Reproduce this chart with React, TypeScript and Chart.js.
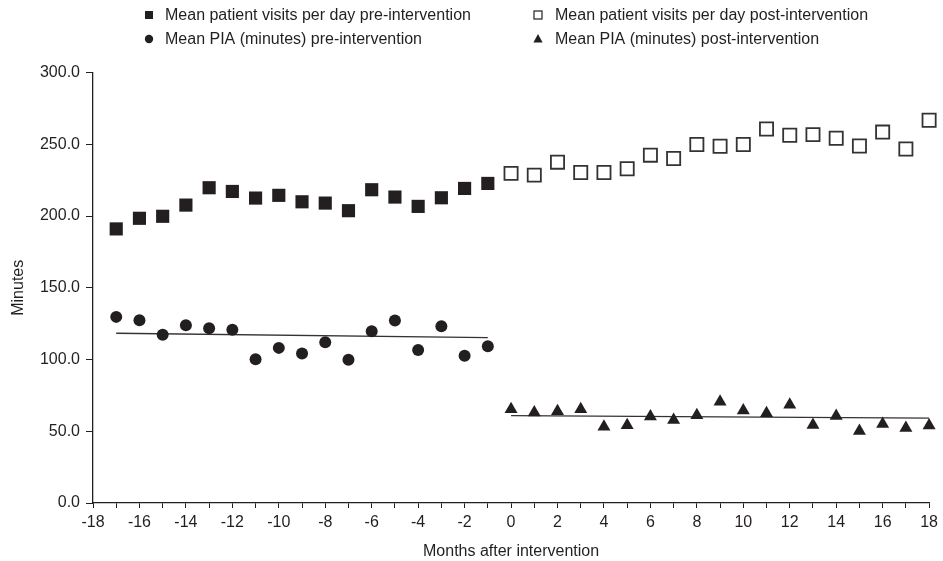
import React, { useEffect, useRef } from "react";
import { Chart, registerables } from "chart.js";

Chart.register(...registerables);

const monthsPre = [-17, -16, -15, -14, -13, -12, -11, -10, -9, -8, -7, -6, -5, -4, -3, -2, -1];
const monthsPost = [0, 1, 2, 3, 4, 5, 6, 7, 8, 9, 10, 11, 12, 13, 14, 15, 16, 17, 18];

const visitsPre = [191, 198.4, 199.8, 207.6, 219.7, 217.1, 212.5, 214.4, 209.9, 209, 203.7, 218.3, 213.2, 206.7, 212.7, 219.2, 222.7];
const visitsPost = [229.7, 228.5, 237.5, 230.3, 230.3, 232.9, 242.4, 240.1, 249.8, 248.6, 249.8, 260.6, 256.3, 256.7, 254.2, 248.8, 258.5, 246.7, 266.7];
const piaPre = [129.7, 127.3, 117.2, 123.8, 121.7, 120.8, 100.2, 108.1, 104.2, 112, 99.8, 119.7, 127.1, 106.7, 123.1, 102.6, 109.2];
const piaPost = [65.4, 63, 63.9, 65.3, 53.2, 54.2, 60.2, 57.9, 61.2, 70.6, 64.4, 62.5, 68.5, 54.4, 60.6, 50.2, 55.1, 52.3, 54];

const trendPreX = [-17, -1];
const trendPreY = [118.3, 115.3];
const trendPostX = [0, 18];
const trendPostY = [60.9, 59.2];

const legendLabels = [
  "Mean patient visits per day pre-intervention",
  "Mean patient visits per day post-intervention",
  "Mean PIA (minutes) pre-intervention",
  "Mean PIA (minutes) post-intervention",
];

const xTitle = "Months after intervention";
const yTitle = "Minutes";

const INK = "#231f20";
const FONT = '"Liberation Sans", Arial, Helvetica, sans-serif';

const pts = (xs: number[], ys: number[]) => xs.map((x, i) => ({ x, y: ys[i] }));

const legendPlugin = {
  id: "customLegend",
  afterDraw(chart: any) {
    const ctx = chart.ctx as CanvasRenderingContext2D;
    ctx.save();
    ctx.font = `16px ${FONT}`;
    ctx.textBaseline = "middle";
    ctx.textAlign = "left";
    const items = [
      { mx: 149, tx: 165, y: 15, kind: "fsq" },
      { mx: 538, tx: 555, y: 15, kind: "hsq" },
      { mx: 149, tx: 165, y: 39, kind: "circ" },
      { mx: 538, tx: 555, y: 39, kind: "tri" },
    ];
    items.forEach((it, i) => {
      ctx.fillStyle = INK;
      ctx.strokeStyle = INK;
      if (it.kind === "fsq") {
        ctx.fillRect(it.mx - 4, it.y - 4, 8, 8);
      } else if (it.kind === "hsq") {
        ctx.lineWidth = 1.2;
        ctx.fillStyle = "#fff";
        ctx.fillRect(it.mx - 4, it.y - 4, 8, 8);
        ctx.strokeRect(it.mx - 4, it.y - 4, 8, 8);
      } else if (it.kind === "circ") {
        ctx.beginPath();
        ctx.arc(it.mx, it.y, 4.2, 0, Math.PI * 2);
        ctx.fill();
      } else {
        ctx.beginPath();
        ctx.moveTo(it.mx, it.y - 5);
        ctx.lineTo(it.mx + 4.6, it.y + 3.5);
        ctx.lineTo(it.mx - 4.6, it.y + 3.5);
        ctx.closePath();
        ctx.fill();
      }
      ctx.fillStyle = INK;
      ctx.fillText(legendLabels[i], it.tx, it.y + 1);
    });
    ctx.restore();
  },
};

export default function App() {
  const ref = useRef<HTMLCanvasElement | null>(null);

  useEffect(() => {
    if (!ref.current) return;
    const chart = new Chart(ref.current, {
      type: "scatter",
      data: {
        datasets: [
          {
            label: legendLabels[0],
            data: pts(monthsPre, visitsPre),
            pointStyle: "rect",
            pointRadius: 9.3,
            backgroundColor: INK,
            borderColor: INK,
            borderWidth: 0,
            clip: false,
            order: 1,
          },
          {
            label: legendLabels[1],
            data: pts(monthsPost, visitsPost),
            pointStyle: "rect",
            pointRadius: 9.3,
            backgroundColor: "#ffffff",
            borderColor: "#333333",
            borderWidth: 1.8,
            clip: false,
            order: 1,
          },
          {
            label: legendLabels[2],
            data: pts(monthsPre, piaPre),
            pointStyle: "circle",
            pointRadius: 6,
            backgroundColor: INK,
            borderColor: INK,
            borderWidth: 0,
            clip: false,
            order: 1,
          },
          {
            label: legendLabels[3],
            data: pts(monthsPost, piaPost),
            pointStyle: "triangle",
            pointRadius: 7.5,
            backgroundColor: INK,
            borderColor: INK,
            borderWidth: 0,
            clip: false,
            order: 1,
          },
          {
            label: "trend-pre",
            data: pts(trendPreX, trendPreY),
            showLine: true,
            pointRadius: 0,
            borderColor: "#333333",
            borderWidth: 1.3,
            clip: false,
            order: 2,
          },
          {
            label: "trend-post",
            data: pts(trendPostX, trendPostY),
            showLine: true,
            pointRadius: 0,
            borderColor: "#333333",
            borderWidth: 1.3,
            clip: false,
            order: 2,
          },
        ] as any,
      },
      plugins: [legendPlugin],
      options: {
        animation: false,
        responsive: false,
        layout: { padding: { top: 72.5, right: 12, left: 0, bottom: 0 } },
        plugins: {
          legend: { display: false },
          tooltip: { enabled: false },
        },
        scales: {
          x: {
            type: "linear",
            min: -18,
            max: 18,
            afterFit: (s: any) => {
              s.height = 58;
            },
            ticks: {
              stepSize: 1,
              autoSkip: false,
              maxRotation: 0,
              minRotation: 0,
              padding: 5,
              color: INK,
              font: { family: FONT, size: 16 },
              callback: (v: any) => (Number(v) % 2 === 0 ? String(v) : ""),
            },
            grid: {
              drawOnChartArea: false,
              drawTicks: true,
              tickLength: 5,
              color: INK,
              lineWidth: 1,
            },
            border: { display: true, color: INK, width: 1.3 },
            title: {
              display: true,
              text: xTitle,
              color: INK,
              font: { family: FONT, size: 16 },
              padding: { top: 0, bottom: 0 },
            },
          },
          y: {
            type: "linear",
            min: 0,
            max: 300,
            afterFit: (s: any) => {
              s.width = 93;
            },
            ticks: {
              stepSize: 50,
              padding: 6,
              color: INK,
              font: { family: FONT, size: 16 },
              callback: (v: any) => Number(v).toFixed(1),
            },
            grid: {
              drawOnChartArea: false,
              drawTicks: true,
              tickLength: 7,
              color: INK,
              lineWidth: 1,
            },
            border: { display: true, color: INK, width: 1.3 },
            title: {
              display: true,
              text: yTitle,
              color: INK,
              font: { family: FONT, size: 16 },
              padding: { top: 9, bottom: 0 },
            },
          },
        },
      },
    });
    return () => chart.destroy();
  }, []);

  return (
    <div style={{ position: "fixed", left: 0, top: 0, width: 943, height: 561, background: "#fff" }}>
      <canvas ref={ref} width={943} height={561} style={{ display: "block" }} />
    </div>
  );
}
